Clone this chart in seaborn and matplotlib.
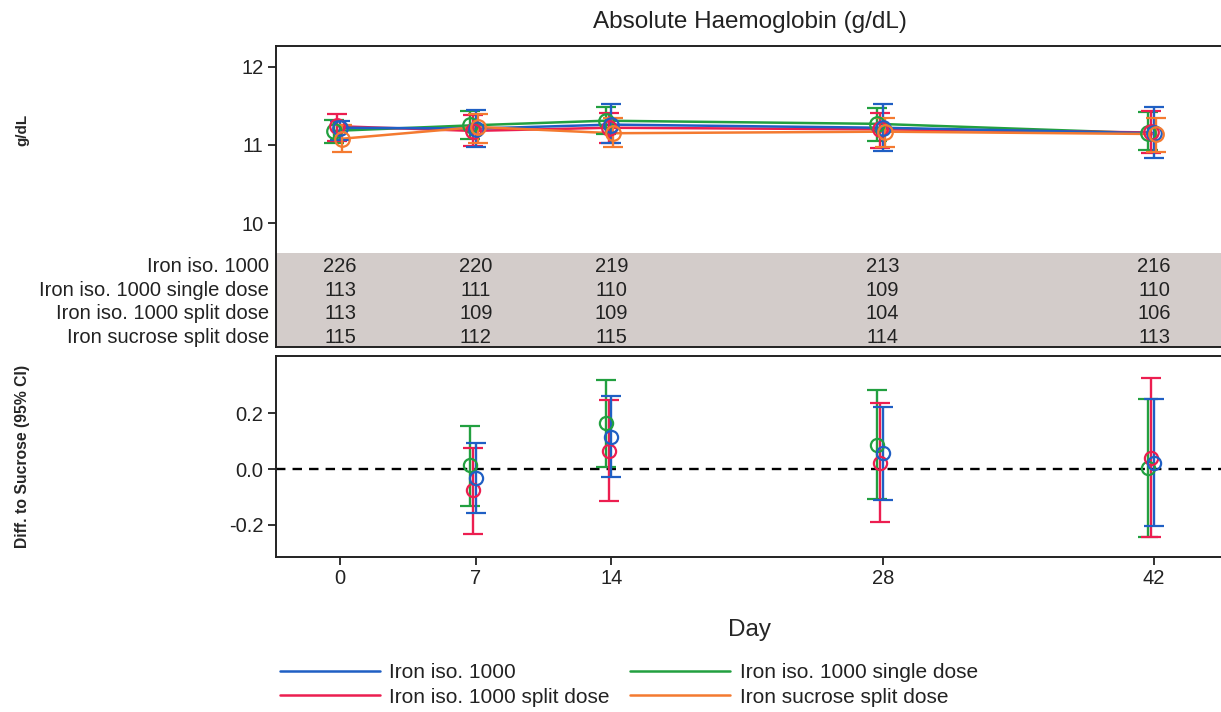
import numpy as np
import pandas as pd
import matplotlib
matplotlib.use("Agg")
import matplotlib.pyplot as plt
import matplotlib.transforms as mtransforms
from matplotlib.lines import Line2D
import seaborn as sns

# ---- data ---------------------------------------------------------------
days = [0, 7, 14, 28, 42]
groups = ["Iron iso. 1000", "Iron iso. 1000 single dose",
          "Iron iso. 1000 split dose", "Iron sucrose split dose"]

# absolute haemoglobin (g/dL): mean, lower and upper bound per visit
hb_iso_mean = [11.22, 11.21, 11.26, 11.22, 11.15]
hb_iso_lo = [11.06, 10.97, 11.03, 10.92, 10.83]
hb_iso_hi = [11.31, 11.45, 11.52, 11.52, 11.48]

hb_single_mean = [11.18, 11.25, 11.31, 11.27, 11.15]
hb_single_lo = [11.03, 11.08, 11.14, 11.05, 10.94]
hb_single_hi = [11.32, 11.43, 11.49, 11.47, 11.42]

hb_split_mean = [11.24, 11.18, 11.22, 11.20, 11.16]
hb_split_lo = [11.05, 10.99, 11.02, 10.96, 10.90]
hb_split_hi = [11.39, 11.38, 11.41, 11.41, 11.43]

hb_sucrose_mean = [11.08, 11.23, 11.15, 11.17, 11.14]
hb_sucrose_lo = [10.91, 11.03, 10.97, 10.98, 10.91]
hb_sucrose_hi = [11.25, 11.40, 11.35, 11.35, 11.35]

# patients at risk per visit
n_iso = [226, 220, 219, 213, 216]
n_single = [113, 111, 110, 109, 110]
n_split = [113, 109, 109, 104, 106]
n_sucrose = [115, 112, 115, 114, 113]

# difference to iron sucrose (95% CI)
diff_days = [7, 14, 28, 42]
diff_iso_mean = [-0.031, 0.115, 0.056, 0.022]
diff_iso_lo = [-0.158, -0.030, -0.113, -0.204]
diff_iso_hi = [0.095, 0.261, 0.223, 0.250]

diff_single_mean = [0.014, 0.165, 0.088, 0.002]
diff_single_lo = [-0.132, 0.006, -0.107, -0.244]
diff_single_hi = [0.156, 0.321, 0.285, 0.250]

diff_split_mean = [-0.075, 0.065, 0.020, 0.038]
diff_split_lo = [-0.232, -0.114, -0.190, -0.244]
diff_split_hi = [0.077, 0.249, 0.238, 0.326]

# ---- style --------------------------------------------------------------
palette = {
    "Iron iso. 1000": "#1F5FC4",
    "Iron iso. 1000 single dose": "#22A040",
    "Iron iso. 1000 split dose": "#EC1E50",
    "Iron sucrose split dose": "#F47A30",
}
dodge = {
    "Iron iso. 1000": 0.0,
    "Iron iso. 1000 single dose": -0.3,
    "Iron iso. 1000 split dose": -0.15,
    "Iron sucrose split dose": 0.1,
}
text_color = "#222222"

sns.set_theme(style="white")
plt.rcParams["font.family"] = ["Liberation Sans", "DejaVu Sans"]
plt.rcParams["axes.unicode_minus"] = False
plt.rcParams["text.color"] = text_color
plt.rcParams["xtick.color"] = text_color
plt.rcParams["ytick.color"] = text_color

abs_df = pd.concat([
    pd.DataFrame({"day": days, "group": g, "mean": m, "lo": lo, "hi": hi})
    for g, m, lo, hi in [
        (groups[1], hb_single_mean, hb_single_lo, hb_single_hi),
        (groups[2], hb_split_mean, hb_split_lo, hb_split_hi),
        (groups[0], hb_iso_mean, hb_iso_lo, hb_iso_hi),
        (groups[3], hb_sucrose_mean, hb_sucrose_lo, hb_sucrose_hi),
    ]
], ignore_index=True)
abs_df["x"] = abs_df["day"] + abs_df["group"].map(dodge)

diff_df = pd.concat([
    pd.DataFrame({"day": diff_days, "group": g, "mean": m, "lo": lo, "hi": hi})
    for g, m, lo, hi in [
        (groups[1], diff_single_mean, diff_single_lo, diff_single_hi),
        (groups[2], diff_split_mean, diff_split_lo, diff_split_hi),
        (groups[0], diff_iso_mean, diff_iso_lo, diff_iso_hi),
    ]
], ignore_index=True)
diff_df["x"] = diff_df["day"] + diff_df["group"].map(dodge)

counts = {groups[0]: n_iso, groups[1]: n_single,
          groups[2]: n_split, groups[3]: n_sucrose}

fig = plt.figure(figsize=(12.21, 7.12), dpi=100)
ax_top = fig.add_axes([0.226, 0.5126, 0.776, 0.4228])
ax_bot = fig.add_axes([0.226, 0.2177, 0.776, 0.2823])


def draw_errorbars(ax, df, ms):
    for g, sub in df.groupby("group", sort=False):
        c = palette[g]
        ax.errorbar(sub["x"], sub["mean"],
                    yerr=[sub["mean"] - sub["lo"], sub["hi"] - sub["mean"]],
                    fmt="o", mfc="none", mec=c, ecolor=c, ms=ms, mew=1.6,
                    elinewidth=1.7, capsize=7, capthick=1.7, zorder=3)


# ---- upper panel: absolute values ----------------------------------------
sns.lineplot(data=abs_df, x="x", y="mean", hue="group", palette=palette,
             estimator=None, sort=True, linewidth=1.8, legend=False,
             ax=ax_top, zorder=2)
draw_errorbars(ax_top, abs_df, ms=10.5)

ax_top.set_xlim(-3.31, 45.58)
ax_top.set_ylim(8.42, 12.264)
ax_top.set_yticks([10, 11, 12])
ax_top.set_xticks([])
ax_top.set_xlabel("")
ax_top.set_ylabel("g/dL", fontsize=11, fontweight="bold")
ax_top.yaxis.set_label_coords(-0.26, 0.72)

# at-risk table band inside the lower part of the panel
band_frac = 0.312
ax_top.add_patch(plt.Rectangle((0, 0), 1, band_frac, transform=ax_top.transAxes,
                               facecolor="#D3CCCA", edgecolor="none", zorder=1))
row_y = [0.269, 0.189, 0.113, 0.033]
blend = mtransforms.blended_transform_factory(ax_top.transData, ax_top.transAxes)
for g, yy in zip(groups, row_y):
    for d, n in zip(days, counts[g]):
        ax_top.text(d, yy, str(n), transform=blend, ha="center", va="center",
                    fontsize=14.5, color=text_color, zorder=4)
    ax_top.text(-0.007, yy, g, transform=ax_top.transAxes, ha="right",
                va="center", fontsize=14.5, color=text_color)

ax_top.set_title("Absolute Haemoglobin (g/dL)", fontsize=17.5, pad=13,
                 color=text_color)

# ---- lower panel: difference to sucrose -----------------------------------
ax_bot.axhline(0, color="black", linestyle=(0, (4, 3)), linewidth=1.7, zorder=1)
draw_errorbars(ax_bot, diff_df, ms=9.5)
ax_bot.set_xlim(-3.31, 45.58)
ax_bot.set_ylim(-0.316, 0.406)
ax_bot.set_yticks([-0.2, 0.0, 0.2])
ax_bot.set_yticklabels(["-0.2", "0.0", "0.2"])
ax_bot.set_xticks(days)
ax_bot.set_xticklabels([str(d) for d in days])
ax_bot.set_xlabel("Day", fontsize=17.5, labelpad=22)
ax_bot.set_ylabel("Diff. to Sucrose (95% CI)", fontsize=11.3, fontweight="bold")
ax_bot.yaxis.set_label_coords(-0.26, 0.5)

for ax in (ax_top, ax_bot):
    for side in ("left", "right", "top", "bottom"):
        ax.spines[side].set_color("#222222")
        ax.spines[side].set_linewidth(1.4)
    ax.tick_params(axis="both", direction="out", length=6, width=1.3,
                   labelsize=14.5, pad=3, left=True, bottom=(ax is ax_bot))

# ---- legend ------------------------------------------------------------
order = [groups[0], groups[2], groups[1], groups[3]]
handles = [Line2D([], [], color=palette[g], linewidth=1.8) for g in order]
fig.legend(handles, order, loc="center", bbox_to_anchor=(0.515, 0.038),
           ncol=2, frameon=False, fontsize=15, handlelength=4.8,
           handletextpad=0.45, columnspacing=1.0, labelspacing=0.27)

fig.savefig("out.png", dpi=100)
